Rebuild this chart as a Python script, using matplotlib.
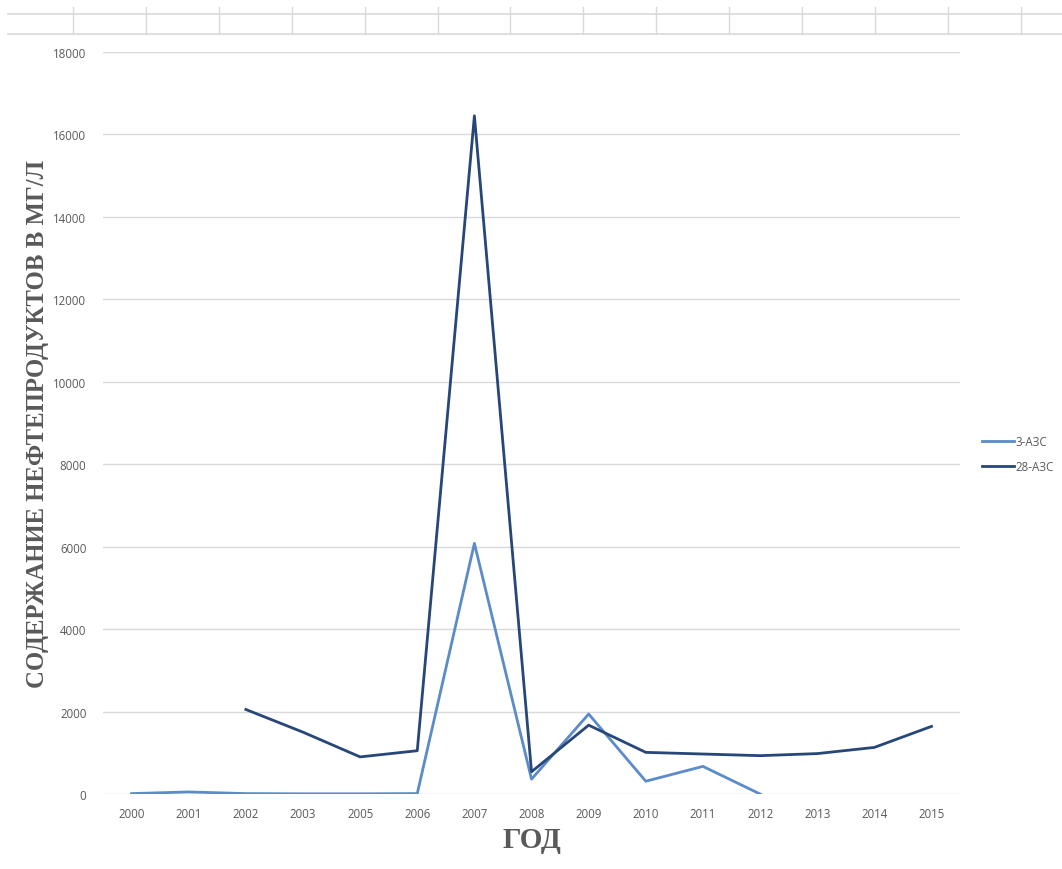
import numpy as np
import matplotlib.pyplot as plt
from matplotlib.lines import Line2D

years = ['2000', '2001', '2002', '2003', '2005', '2006', '2007', '2008',
         '2009', '2010', '2011', '2012', '2013', '2014', '2015']

# 3-АЗС has no samples after 2012, 28-АЗС none before 2002
azs_3 = [10, 50, 10, 5, 5, 10, 6080, 360, 1940, 310, 670, 0,
         np.nan, np.nan, np.nan]
azs_28 = [np.nan, np.nan, 2050, 1500, 900, 1050, 16450, 540, 1670,
          1010, 970, 930, 980, 1130, 1640]

series_names = ['3-АЗС', '28-АЗС']
series_colors = ['#5b8bc9', '#264778']

text_gray = '#595959'
grid_gray = '#d9d9d9'

plt.rcParams['font.family'] = ['Open Sans', 'DejaVu Sans']

fig = plt.figure(figsize=(10.62, 8.7), dpi=100)
ax = fig.add_axes([0.097, 0.0862, 0.807, 0.853])

xs = np.arange(len(years))
for vals, name, color in zip([azs_3, azs_28], series_names, series_colors):
    ax.plot(xs, vals, color=color, lw=2.0, label=name,
            solid_joinstyle='round')

ax.set_xlim(-0.5, len(years) - 0.5)
ax.set_ylim(0, 18000)
ax.set_yticks(np.arange(0, 18001, 2000))
ax.set_xticks(xs, years)
ax.tick_params(length=0, labelsize=8.3, labelcolor=text_gray, pad=9)
ax.tick_params(axis='y', pad=12)
ax.grid(axis='y', color=grid_gray, lw=1)
ax.set_axisbelow(True)
for s in ax.spines.values():
    s.set_visible(False)

ax.set_xlabel('ГОД', family='Liberation Serif', fontweight='bold',
              fontsize=21, color=text_gray, labelpad=5)
ax.set_ylabel('СОДЕРЖАНИЕ НЕФТЕПРОДУКТОВ В МГ/Л', family='Liberation Serif',
              fontweight='bold', fontsize=17.8, color=text_gray, labelpad=3)

ax.legend(loc='center left', bbox_to_anchor=(1.014, 0.458), frameon=False,
          fontsize=8.3, labelcolor=text_gray, handlelength=2.7,
          handletextpad=0.15, labelspacing=1.05)

# spreadsheet cell borders along the top edge
fig.add_artist(Line2D([8 / 1062, 1], [1 - 15 / 870] * 2, color=grid_gray, lw=1.2))
fig.add_artist(Line2D([8 / 1062, 1], [1 - 35 / 870] * 2, color=grid_gray, lw=1.2))
for i in range(14):
    x = (73 + 72.9 * i) / 1062
    fig.add_artist(Line2D([x, x], [1 - 8 / 870, 1 - 35 / 870],
                          color=grid_gray, lw=1))

fig.savefig('out.png', dpi=100)
